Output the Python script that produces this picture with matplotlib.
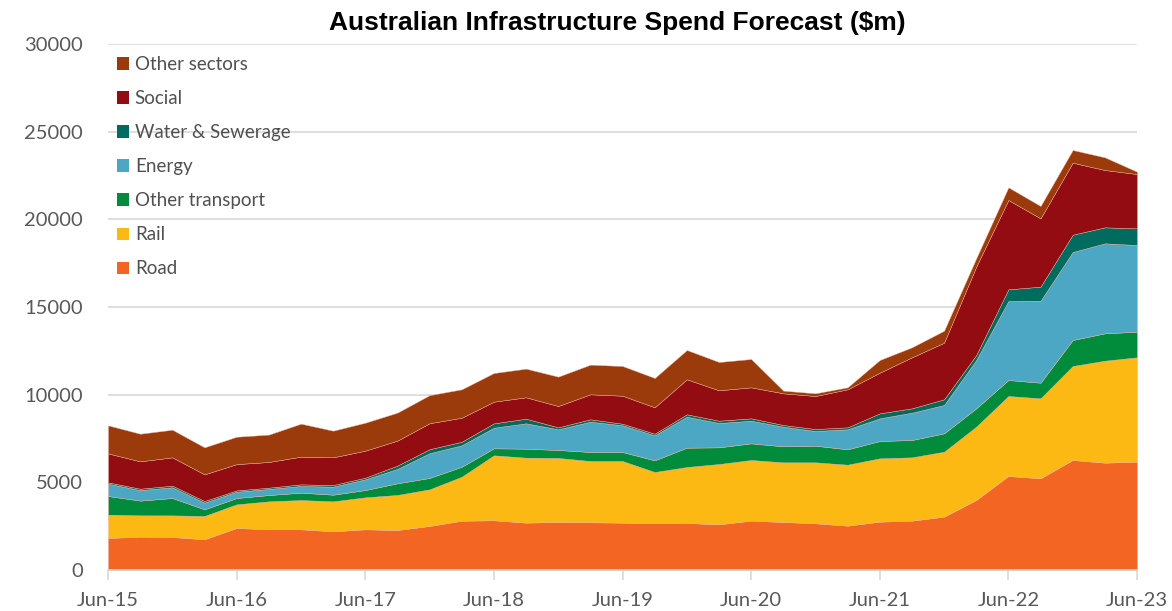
import matplotlib
matplotlib.use("Agg")
import matplotlib.pyplot as plt
from matplotlib.patches import Patch

# quarterly values, Jun-15 .. Jun-23 ($m)
road = [1825, 1900, 1880, 1750, 2395, 2320, 2320, 2205, 2320, 2280, 2510, 2810, 2835,
        2700, 2737, 2720, 2700, 2662, 2680, 2605, 2813, 2737, 2662, 2528, 2756, 2813,
        3040, 3990, 5361, 5228, 6273, 6121, 6178]
rail = [1330, 1217, 1235, 1330, 1350, 1595, 1670, 1710, 1825, 2000, 2090, 2510, 3705,
        3706, 3653, 3496, 3516, 2927, 3194, 3440, 3460, 3403, 3478, 3479, 3612, 3613,
        3707, 4185, 4562, 4564, 5361, 5817, 5952]
other_transport = [1065, 840, 990, 380, 360, 360, 420, 380, 415, 665, 650, 570, 400,
                   514, 455, 514, 514, 665, 1103, 951, 950, 913, 950, 876, 989, 988,
                   1047, 1045, 913, 890, 1483, 1560, 1460]
energy = [700, 600, 610, 380, 360, 345, 380, 455, 610, 820, 1410, 1220, 1175, 1446,
          1179, 1727, 1522, 1426, 1766, 1387, 1291, 1120, 837, 1141, 1293, 1557, 1616,
          2755, 4505, 4678, 5019, 5133, 4945]
water = [80, 80, 95, 95, 75, 75, 95, 95, 95, 190, 230, 205, 250, 264, 114, 137, 91, 95,
         137, 131, 136, 97, 113, 114, 285, 250, 325, 286, 667, 800, 988, 913, 952]
social = [1650, 1560, 1615, 1520, 1500, 1465, 1580, 1580, 1540, 1425, 1480, 1370, 1235,
          1220, 1215, 1426, 1597, 1504, 1995, 1734, 1768, 1807, 1883, 2168, 2319, 2909,
          3229, 5040, 5092, 3896, 4106, 3268, 3097]
other_sectors = [1600, 1575, 1575, 1540, 1560, 1560, 1880, 1520, 1595, 1595, 1600, 1620,
                 1635, 1632, 1673, 1690, 1694, 1671, 1672, 1614, 1615, 151, 154, 112,
                 722, 570, 684, 475, 725, 703, 723, 724, 132]

year_labels = ["Jun-15", "Jun-16", "Jun-17", "Jun-18", "Jun-19",
               "Jun-20", "Jun-21", "Jun-22", "Jun-23"]

series = [road, rail, other_transport, energy, water, social, other_sectors]
names = ["Road", "Rail", "Other transport", "Energy", "Water & Sewerage",
         "Social", "Other sectors"]
colors = ["#F26522", "#FDB913", "#008C3A", "#4BA7C3", "#006B5F", "#920C12", "#9B3A0A"]

plt.rcParams["font.family"] = ["Lato", "DejaVu Sans"]

fig = plt.figure(figsize=(11.72, 6.11), dpi=100)
ax = fig.add_axes([108 / 1172, 1 - 570 / 611, (1137 - 108) / 1172, (570 - 44) / 611])

x = list(range(len(road)))
ax.stackplot(x, *series, colors=colors, edgecolor="#e8b0a0", linewidth=0.3, zorder=2)

ax.set_xlim(0, len(road) - 1)
ax.set_ylim(0, 30000)
ax.set_yticks(range(0, 30001, 5000))
ax.set_xticks(range(0, len(road), 4))
ax.set_xticklabels(year_labels)
ax.tick_params(axis="y", length=0, pad=18, labelsize=14.5, labelcolor="#595959")
ax.tick_params(axis="x", length=7, width=1.2, color="#d9d9d9", pad=9,
               labelsize=14.5, labelcolor="#595959")
ax.grid(axis="y", color="#d9d9d9", linewidth=1.2, zorder=0)
ax.set_axisbelow(True)
for side in ["top", "right", "left"]:
    ax.spines[side].set_visible(False)
ax.spines["bottom"].set_color("#d9d9d9")
ax.spines["bottom"].set_linewidth(1.2)

handles = [Patch(facecolor=c, label=n) for c, n in zip(colors, names)][::-1]
leg = ax.legend(handles=handles, loc="upper left", bbox_to_anchor=(-0.004, 1.002),
                frameon=False, fontsize=13.5, handlelength=0.65, handleheight=0.65,
                handletextpad=0.3, labelspacing=0.91, borderaxespad=0.3)
for t in leg.get_texts():
    t.set_color("#505050")

fig.text(0.527, 0.962, "Australian Infrastructure Spend Forecast ($m)",
         ha="center", va="center", fontsize=19, fontweight="bold",
         family="Liberation Sans")

fig.savefig("out.png", dpi=100)
